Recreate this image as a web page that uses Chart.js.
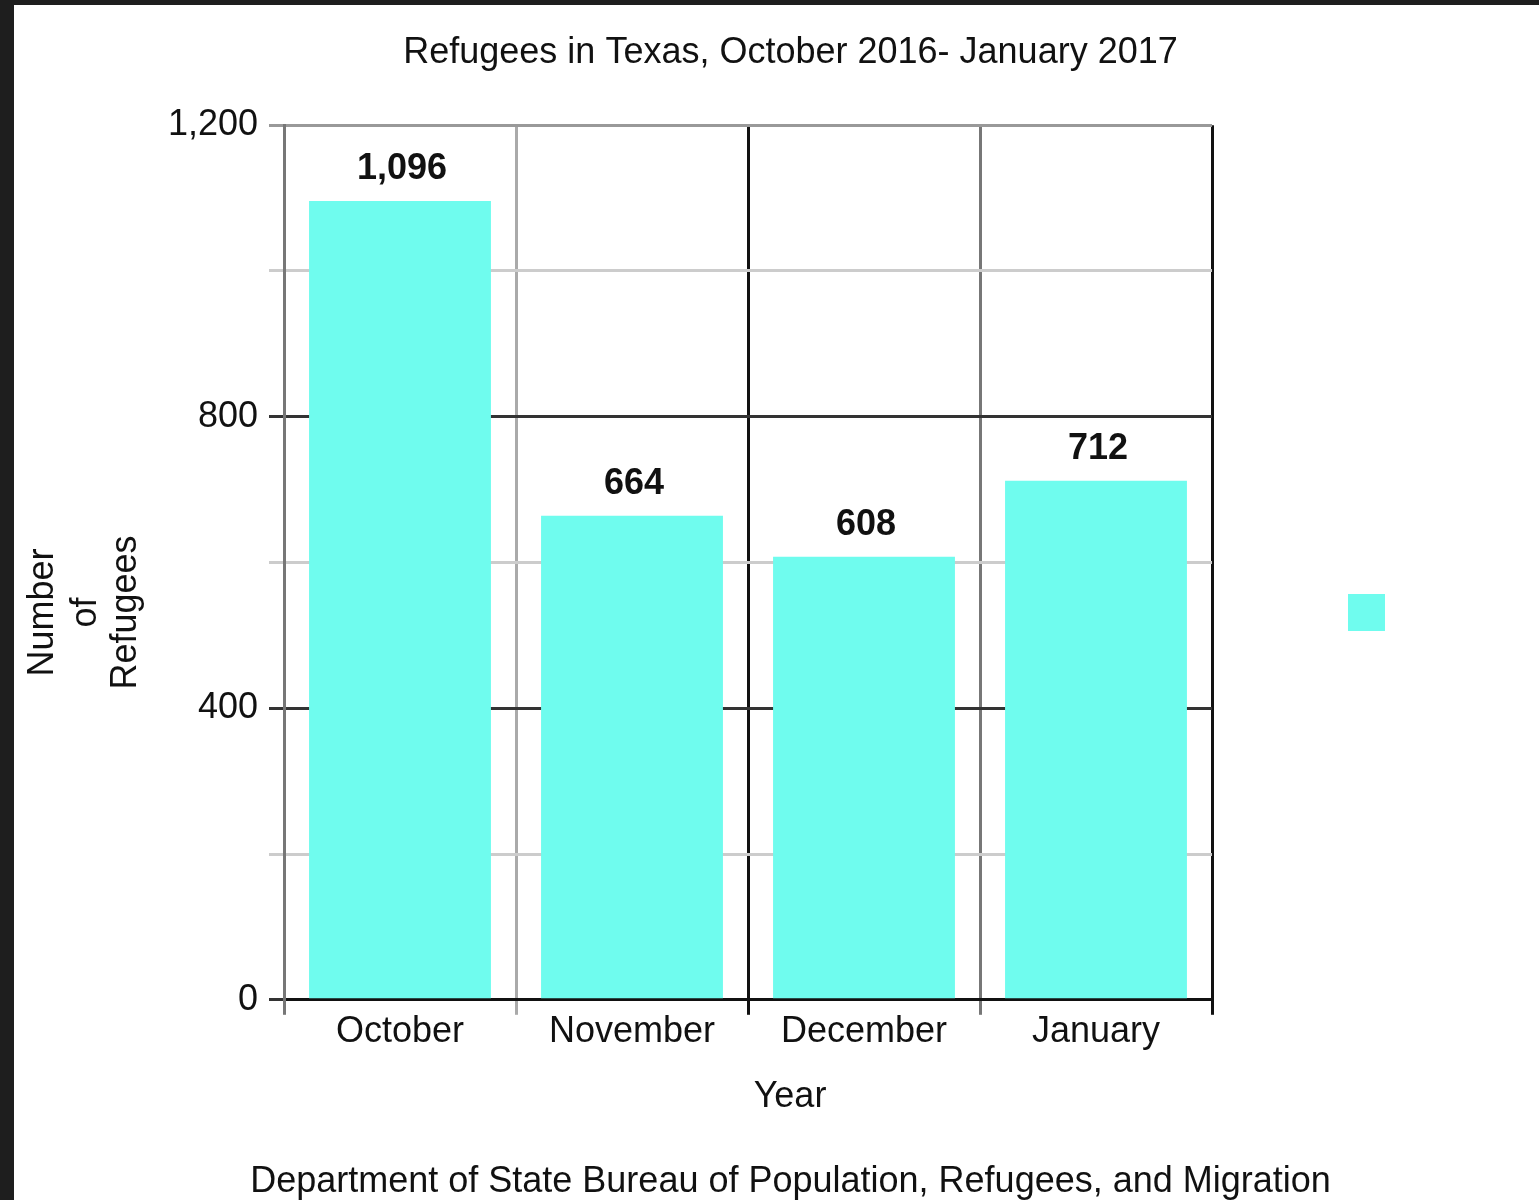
<!DOCTYPE html>
<html>
<head>
<meta charset="utf-8">
<title>Refugees in Texas</title>
<script src="https://cdn.jsdelivr.net/npm/chart.js@4"></script>
<style>
  html, body { margin: 0; padding: 0; background: #1e1e1e; }
  #marco { position: absolute; left: 14px; top: 5px; width: 1525px; height: 1195px; background: #fff; }
  canvas { display: block; }
</style>
</head>
<body>
<div id="marco"><canvas id="chartBarras" width="1525" height="1195"></canvas></div>
<script>
// datos
const meses = ['October', 'November', 'December', 'January'];
const refugiados = [1096, 664, 608, 712];
const ticksY = [0, 400, 800, 1200];

const fuente = '"Liberation Sans", Arial, Helvetica, sans-serif';
const cyan = '#6ffcee';

// ==================== ETIQUETAS Y LEYENDA ====================
const extras = {
    id: 'extras',
    afterDatasetsDraw(chart) {
        const ctx = chart.ctx;
        const meta = chart.getDatasetMeta(0);
        ctx.save();
        ctx.font = 'bold 36px ' + fuente;
        ctx.fillStyle = '#111';
        ctx.textAlign = 'center';
        ctx.textBaseline = 'middle';
        meta.data.forEach((barra, i) => {
            ctx.fillText(refugiados[i].toLocaleString('en-US'), barra.x + 2, barra.y - 32);
        });
        ctx.restore();
    },
    afterDraw(chart) {
        const ctx = chart.ctx;
        const area = chart.chartArea;
        const medio = (area.top + area.bottom) / 2 + 50;
        ctx.save();
        ctx.font = '36px ' + fuente;
        ctx.fillStyle = '#111';
        ctx.textAlign = 'center';
        ctx.textBaseline = 'middle';

        // título eje x
        ctx.fillText('Year', (27 + chart.width) / 2, area.bottom + 97);

        // título eje y (tres líneas giradas)
        const lineas = ['Number', 'of', 'Refugees'];
        const xs = [area.left - 241, area.left - 198, area.left - 158];
        lineas.forEach((txt, i) => {
            ctx.save();
            ctx.translate(xs[i], medio);
            ctx.rotate(-Math.PI / 2);
            ctx.fillText(txt, 0, 0);
            ctx.restore();
        });

        // cuadro de leyenda
        ctx.fillStyle = chart.data.datasets[0].backgroundColor;
        ctx.fillRect(area.right + 136, medio - 18.5, 37, 37);
        ctx.restore();
    }
};

const colorY = (c) => {
    const v = c.tick ? c.tick.value : 0;
    if (v === 1200) return '#999';
    if (v % 400 === 0) return '#333';
    return '#ccc';
};
const coloresX = ['#777', '#aaa', '#111', '#777'];

const ctxBarras = document.getElementById('chartBarras').getContext('2d');

new Chart(ctxBarras, {
    type: 'bar',
    data: {
        labels: meses,
        datasets: [{
            label: '',
            data: refugiados,
            backgroundColor: cyan,
            barPercentage: 0.784,
            categoryPercentage: 1
        }]
    },
    options: {
        responsive: false,
        animation: false,
        layout: { padding: { left: 28, right: 0, top: 0, bottom: 0 } },
        plugins: {
            legend: { display: false },
            tooltip: { enabled: false },
            title: {
                display: true,
                text: 'Refugees in Texas, October 2016- January 2017',
                color: '#111',
                font: { family: fuente, size: 36, weight: 'normal' },
                padding: { top: 26, bottom: 51 }
            },
            subtitle: {
                display: true,
                position: 'bottom',
                text: 'Department of State Bureau of Population, Refugees, and Migration',
                color: '#111',
                font: { family: fuente, size: 36, weight: 'normal' },
                padding: { top: 0, bottom: -4 }
            }
        },
        scales: {
            x: {
                offset: true,
                grid: {
                    offset: true,
                    color: (c) => c.type === 'tick' ? coloresX[c.index] : '#111',
                    lineWidth: 3,
                    tickLength: 15
                },
                border: { color: '#111', width: 3 },
                ticks: {
                    color: '#111',
                    padding: -4,
                    font: { family: fuente, size: 36 }
                },
                afterFit: (s) => { s.height = 161; }
            },
            y: {
                min: 0,
                max: 1200,
                ticks: {
                    stepSize: 200,
                    color: '#111',
                    padding: 11,
                    font: { family: fuente, size: 36 },
                    callback: (v) => ticksY.includes(v) ? v.toLocaleString('en-US') : ''
                },
                grid: { color: colorY, lineWidth: 3, tickLength: 15 },
                border: { color: '#777', width: 3 },
                afterFit: (s) => { s.width = 242; }
            },
            hueco: {
                type: 'linear',
                position: 'right',
                display: true,
                grid: { display: false },
                ticks: { display: false },
                border: { display: false },
                afterFit: (s) => { s.width = 327; }
            }
        }
    },
    plugins: [extras]
});
</script>
</body>
</html>
